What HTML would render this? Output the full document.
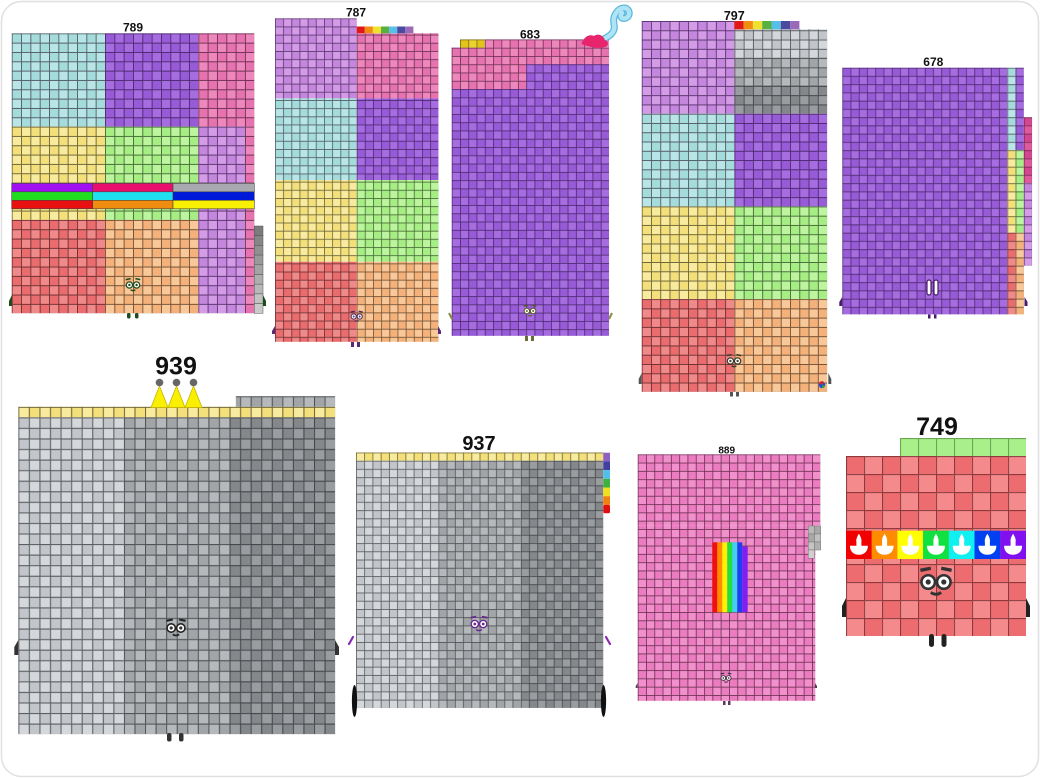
<!DOCTYPE html>
<html><head><meta charset="utf-8"><style>
html,body{margin:0;padding:0;background:#fff;}
svg{display:block;}
text{font-family:"Liberation Sans",sans-serif;font-weight:bold;fill:#111;text-anchor:middle;}
</style></head><body>
<svg width="1040" height="778" viewBox="0 0 1040 778" xmlns="http://www.w3.org/2000/svg">
<defs>
<pattern id="cy" width="20" height="20" patternUnits="userSpaceOnUse"><rect width="20" height="20" fill="#a4dcdc"/><path d="M10 0h10v10H10zM0 10h10v10H0z" fill="#b8e6e6"/><path d="M0 .5H20M0 10.5H20M.5 0V20M10.5 0V20" stroke="#2a2030" stroke-opacity=".68"/></pattern>
<pattern id="pu" width="20" height="20" patternUnits="userSpaceOnUse"><rect width="20" height="20" fill="#985bd8"/><path d="M10 0h10v10H10zM0 10h10v10H0z" fill="#a66de0"/><path d="M0 .5H20M0 10.5H20M.5 0V20M10.5 0V20" stroke="#2a1040" stroke-opacity=".68"/></pattern>
<pattern id="pk" width="20" height="20" patternUnits="userSpaceOnUse"><rect width="20" height="20" fill="#e672b0"/><path d="M10 0h10v10H10zM0 10h10v10H0z" fill="#ee88bc"/><path d="M0 .5H20M0 10.5H20M.5 0V20M10.5 0V20" stroke="#3a1028" stroke-opacity=".68"/></pattern>
<pattern id="mg" width="20" height="20" patternUnits="userSpaceOnUse"><rect width="20" height="20" fill="#d44690"/><path d="M10 0h10v10H10zM0 10h10v10H0z" fill="#de5a9c"/><path d="M0 .5H20M0 10.5H20M.5 0V20M10.5 0V20" stroke="#3a1028" stroke-opacity=".6"/></pattern>
<pattern id="ye" width="20" height="20" patternUnits="userSpaceOnUse"><rect width="20" height="20" fill="#f4e07a"/><path d="M10 0h10v10H10zM0 10h10v10H0z" fill="#f8eb9e"/><path d="M0 .5H20M0 10.5H20M.5 0V20M10.5 0V20" stroke="#302a10" stroke-opacity=".68"/></pattern>
<pattern id="gold" width="20" height="20" patternUnits="userSpaceOnUse"><rect width="20" height="20" fill="#e4c418"/><path d="M10 0h10v10H10zM0 10h10v10H0z" fill="#ecd230"/><path d="M0 .5H20M0 10.5H20M.5 0V20M10.5 0V20" stroke="#302a10" stroke-opacity=".6"/></pattern>
<pattern id="gn" width="20" height="20" patternUnits="userSpaceOnUse"><rect width="20" height="20" fill="#a6ee84"/><path d="M10 0h10v10H10zM0 10h10v10H0z" fill="#bcf59e"/><path d="M0 .5H20M0 10.5H20M.5 0V20M10.5 0V20" stroke="#183010" stroke-opacity=".68"/></pattern>
<pattern id="li" width="20" height="20" patternUnits="userSpaceOnUse"><rect width="20" height="20" fill="#c487dd"/><path d="M10 0h10v10H10zM0 10h10v10H0z" fill="#d49be6"/><path d="M0 .5H20M0 10.5H20M.5 0V20M10.5 0V20" stroke="#2a1040" stroke-opacity=".68"/></pattern>
<pattern id="rd" width="20" height="20" patternUnits="userSpaceOnUse"><rect width="20" height="20" fill="#ea6c6e"/><path d="M10 0h10v10H10zM0 10h10v10H0z" fill="#f08a8a"/><path d="M0 .5H20M0 10.5H20M.5 0V20M10.5 0V20" stroke="#3a1010" stroke-opacity=".68"/></pattern>
<pattern id="or" width="20" height="20" patternUnits="userSpaceOnUse"><rect width="20" height="20" fill="#f4b27a"/><path d="M10 0h10v10H10zM0 10h10v10H0z" fill="#f8c898"/><path d="M0 .5H20M0 10.5H20M.5 0V20M10.5 0V20" stroke="#3a2010" stroke-opacity=".68"/></pattern>
<pattern id="gl" width="20" height="20" patternUnits="userSpaceOnUse"><rect width="20" height="20" fill="#c2c6ca"/><path d="M10 0h10v10H10zM0 10h10v10H0z" fill="#d4d8db"/><path d="M0 .5H20M0 10.5H20M.5 0V20M10.5 0V20" stroke="#202428" stroke-opacity=".65"/></pattern>
<pattern id="gm" width="20" height="20" patternUnits="userSpaceOnUse"><rect width="20" height="20" fill="#a2a5a8"/><path d="M10 0h10v10H10zM0 10h10v10H0z" fill="#b6b9bc"/><path d="M0 .5H20M0 10.5H20M.5 0V20M10.5 0V20" stroke="#202428" stroke-opacity=".65"/></pattern>
<pattern id="gd" width="20" height="20" patternUnits="userSpaceOnUse"><rect width="20" height="20" fill="#85888b"/><path d="M10 0h10v10H10zM0 10h10v10H0z" fill="#9a9da0"/><path d="M0 .5H20M0 10.5H20M.5 0V20M10.5 0V20" stroke="#202428" stroke-opacity=".65"/></pattern>
<pattern id="p2" width="20" height="20" patternUnits="userSpaceOnUse"><rect width="20" height="20" fill="#ec7cc0"/><path d="M10 0h10v10H10zM0 10h10v10H0z" fill="#f290cc"/><path d="M0 .5H20M0 10.5H20M.5 0V20M10.5 0V20" stroke="#3a1028" stroke-opacity=".7"/></pattern>
<pattern id="r2" width="20" height="20" patternUnits="userSpaceOnUse"><rect width="20" height="20" fill="#ec6c70"/><path d="M10 0h10v10H10zM0 10h10v10H0z" fill="#f48a8c"/><path d="M0 .3H20M0 10.3H20M.3 0V20M10.3 0V20" stroke="#501818" stroke-opacity=".6" stroke-width=".6"/></pattern>
<pattern id="g2" width="20" height="20" patternUnits="userSpaceOnUse"><rect width="20" height="20" fill="#aaf08a"/><path d="M0 .3H20M0 10.3H20M.3 0V20M10.3 0V20" stroke="#3a7a2a" stroke-opacity=".6" stroke-width=".6"/></pattern>
<g id="cd"><path d="M0 3C2 6 3 9 2.5 11H-2.5C-3 9-2 6 0 3Z M-2.5 11h5v4h-5z M-9 15H9C9 21 5 24 0 24C-5 24-9 21-9 15Z" fill="#fff"/></g>
<g id="face"><path d="M-6-4.5l4-.8M2-5.3l4 .8" stroke-width="1.3" fill="none"/><circle cx="-3" r="2.6" fill="#fff" stroke-width="1"/><circle cx="3" r="2.6" fill="#fff" stroke-width="1"/><circle cx="-3" r="1" stroke="none"/><circle cx="3" r="1" stroke="none"/><path d="M-2 4q2 1.4 4 0" fill="none" stroke-width="1.1"/></g>
</defs>

<rect x="1.5" y="1.5" width="1037" height="775" rx="20" fill="#fff" stroke="#e0e0e0" stroke-width="1.5"/>

<!-- 789 -->
<g transform="translate(11.7 33.3) scale(.933)">
<rect width="100" height="100" fill="url(#cy)"/>
<rect x="100" width="100" height="100" fill="url(#pu)"/>
<rect x="200" width="60" height="100" fill="url(#pk)"/>
<rect y="100" width="100" height="100" fill="url(#ye)"/>
<rect x="100" y="100" width="100" height="100" fill="url(#gn)"/>
<rect x="200" y="100" width="50" height="200" fill="url(#li)"/>
<rect x="250" y="100" width="10" height="200" fill="url(#pk)"/>
<rect y="200" width="100" height="100" fill="url(#rd)"/>
<rect x="100" y="200" width="100" height="100" fill="url(#or)"/>
</g>
<g stroke="#444" stroke-width=".6">
<rect x="11.7" y="183.3" width="81" height="8.5" fill="#a010f0"/>
<rect x="92.7" y="183.3" width="80.3" height="8.5" fill="#e8106c"/>
<rect x="173" y="183.3" width="81.3" height="8.5" fill="#a8a8b0"/>
<rect x="11.7" y="191.8" width="81" height="8.5" fill="#20dd20"/>
<rect x="92.7" y="191.8" width="80.3" height="8.5" fill="#20e0f0"/>
<rect x="173" y="191.8" width="81.3" height="8.5" fill="#0018d8"/>
<rect x="11.7" y="200.3" width="81" height="8.5" fill="#e81010"/>
<rect x="92.7" y="200.3" width="80.3" height="8.5" fill="#f08c10"/>
<rect x="173" y="200.3" width="81.3" height="8.5" fill="#f8f000"/>
</g>
<g stroke="#555" stroke-width=".5">
<rect x="254.3" y="226" width="8.7" height="9.7" fill="#7c7c7c"/>
<rect x="254.3" y="235.7" width="8.7" height="9.7" fill="#868686"/>
<rect x="254.3" y="245.4" width="8.7" height="9.7" fill="#909090"/>
<rect x="254.3" y="255.1" width="8.7" height="9.7" fill="#9a9a9a"/>
<rect x="254.3" y="264.8" width="8.7" height="9.7" fill="#a4a4a4"/>
<rect x="254.3" y="274.5" width="8.7" height="9.7" fill="#aeaeae"/>
<rect x="254.3" y="284.2" width="8.7" height="9.7" fill="#b8b8b8"/>
<rect x="254.3" y="293.9" width="8.7" height="9.7" fill="#c2c2c2"/>
<rect x="254.3" y="303.6" width="8.7" height="9.7" fill="#cacaca"/>
</g>
<text x="133" y="31.7" font-size="12">789</text>
<use href="#face" transform="translate(133 285) scale(1.2)" fill="#1d4d1d" stroke="#1d4d1d"/>
<g fill="#1d4d1d"><rect x="127" y="313" width="3.5" height="5.5" rx="1.5"/><rect x="135" y="313" width="3.5" height="5.5" rx="1.5"/><path d="M12 295l-3 6v5h3z"/><path d="M263 295l3 6v5h-3z"/></g>

<!-- 787 -->
<g transform="translate(275 18.3) scale(.817)">
<rect width="100" height="98" fill="url(#li)"/>
<rect x="100" y="18.4" width="100" height="79.6" fill="url(#pk)"/>
<rect y="98" width="100" height="100" fill="url(#cy)"/>
<rect x="100" y="98" width="100" height="100" fill="url(#pu)"/>
<rect y="198" width="100" height="100" fill="url(#ye)"/>
<rect x="100" y="198" width="100" height="100" fill="url(#gn)"/>
<rect y="298" width="100" height="98" fill="url(#rd)"/>
<rect x="100" y="298" width="100" height="98" fill="url(#or)"/>
</g>
<g>
<rect x="356.7" y="26.5" width="8.1" height="6.8" fill="#e01818"/>
<rect x="364.8" y="26.5" width="8.1" height="6.8" fill="#f08c10"/>
<rect x="372.9" y="26.5" width="8.1" height="6.8" fill="#f0e030"/>
<rect x="381" y="26.5" width="8.1" height="6.8" fill="#58b040"/>
<rect x="389.1" y="26.5" width="8.1" height="6.8" fill="#58c0e8"/>
<rect x="397.2" y="26.5" width="8.1" height="6.8" fill="#4a4aa0"/>
<rect x="405.3" y="26.5" width="8.1" height="6.8" fill="#9a6ab8"/>
</g>
<text x="356" y="16.7" font-size="12">787</text>
<use href="#face" transform="translate(356.7 316.5) scale(1)" fill="#5a3a6a" stroke="#4a2a5a"/>
<g fill="#5a2a7a"><rect x="351" y="342" width="3" height="5"/><rect x="357" y="342" width="3" height="5"/><path d="M275 326l-3 5v3h3z"/><path d="M438 326l3 5v3h-3z"/></g>

<!-- 683 -->
<g transform="translate(451.7 47.7) scale(.828)">
<rect width="190" height="348" fill="url(#pu)"/>
<rect width="90" height="50" fill="url(#pk)"/>
<rect x="90" width="100" height="20" fill="url(#pk)"/>
<rect x="10" y="-10" width="30" height="10" fill="url(#gold)"/>
<rect x="40" y="-10" width="150" height="10" fill="url(#pk)"/>
</g>
<text x="530" y="38.3" font-size="12">683</text>
<path d="M602 40C610 36 616 32 614 24C612 16 618 8 624 8C630 8 631 16 626 18C622 20 619 16 622 13" stroke="#5ab8e0" stroke-width="7" fill="none" stroke-linecap="round"/>
<path d="M602 40C610 36 616 32 614 24C612 16 618 8 624 8C630 8 631 16 626 18C622 20 619 16 622 13" stroke="#aee4f4" stroke-width="4.5" fill="none" stroke-linecap="round"/>
<path d="M583 41C585 36 590 34 594 36C598 33 603 35 605 40C609 41 609 46 605 47C598 49 590 47 584 45C581 44 581 42 583 41Z" fill="#e8246c"/>
<use href="#face" transform="translate(530 311) scale(1.05)" fill="#6a6a30" stroke="#5a5a28"/>
<g stroke="#8a8a40" stroke-width="2" fill="none"><path d="M449 313l3 6"/><path d="M612 313l-3 6"/></g>
<g fill="#6a6a3a"><rect x="525" y="336" width="3" height="5"/><rect x="531" y="336" width="3" height="5"/></g>

<!-- 797 -->
<g transform="translate(641.7 21) scale(.927)">
<rect width="100" height="100" fill="url(#li)"/>
<rect x="100" y="9" width="100" height="30" fill="url(#gl)"/>
<rect x="100" y="39" width="100" height="30" fill="url(#gm)"/>
<rect x="100" y="69" width="100" height="31" fill="url(#gd)"/>
<rect y="100" width="100" height="100" fill="url(#cy)"/>
<rect x="100" y="100" width="100" height="100" fill="url(#pu)"/>
<rect y="200" width="100" height="100" fill="url(#ye)"/>
<rect x="100" y="200" width="100" height="100" fill="url(#gn)"/>
<rect y="300" width="100" height="100" fill="url(#rd)"/>
<rect x="100" y="300" width="100" height="100" fill="url(#or)"/>
</g>
<g>
<rect x="734.3" y="21" width="9.3" height="8.3" fill="#e01818"/>
<rect x="743.6" y="21" width="9.3" height="8.3" fill="#f08c10"/>
<rect x="752.9" y="21" width="9.3" height="8.3" fill="#f0e030"/>
<rect x="762.2" y="21" width="9.3" height="8.3" fill="#58b040"/>
<rect x="771.5" y="21" width="9.3" height="8.3" fill="#58c0e8"/>
<rect x="780.8" y="21" width="9.3" height="8.3" fill="#4a4aa0"/>
<rect x="790.1" y="21" width="9.3" height="8.3" fill="#9a6ab8"/>
</g>
<text x="734.3" y="20" font-size="12.5">797</text>
<use href="#face" transform="translate(734 361) scale(1.2)" fill="#4a4a3a" stroke="#3a3a2a"/>
<circle cx="822" cy="385" r="3.2" fill="#2050e0"/><path d="M822 385l-3-2a3.2 3.2 0 0 1 5-1z" fill="#e02020"/><path d="M822 385l3 1a3.2 3.2 0 0 1-3 2z" fill="#20b020"/>
<g fill="#555"><rect x="730" y="392" width="3" height="4.5"/><rect x="736" y="392" width="3" height="4.5"/><path d="M641.7 373l-3 6v5h3z"/><path d="M828.3 373l3 6v5h-3z"/></g>

<!-- 678 -->
<g transform="translate(842.3 67.7) scale(.825)">
<rect width="200" height="299" fill="url(#pu)"/>
<rect x="200" width="10" height="100" fill="url(#cy)"/>
<rect x="200" y="100" width="10" height="100" fill="url(#ye)"/>
<rect x="200" y="200" width="10" height="99" fill="url(#rd)"/>
<rect x="210" width="10" height="100" fill="url(#pu)"/>
<rect x="210" y="100" width="10" height="100" fill="url(#gn)"/>
<rect x="210" y="200" width="10" height="99" fill="url(#or)"/>
<rect x="220" y="60" width="10" height="80" fill="url(#mg)"/>
<rect x="220" y="140" width="10" height="100" fill="url(#li)"/>
</g>
<text x="933.3" y="66" font-size="12">678</text>
<g fill="#fff" stroke="#4a1a6a" stroke-width="1.2"><rect x="927" y="280" width="4" height="15" rx="2"/><rect x="934" y="280" width="4" height="15" rx="2"/></g>
<g fill="#4a1a6a"><rect x="928" y="314.5" width="2.5" height="4"/><rect x="934" y="314.5" width="2.5" height="4"/><path d="M842.3 297l-3 5v4h3z"/><path d="M1024.5 297l3 5v4h-3z"/></g>

<!-- 939 -->
<g transform="translate(18.3 417.3) scale(1.056)">
<rect width="100" height="300" fill="url(#gl)"/>
<rect x="100" width="100" height="300" fill="url(#gm)"/>
<rect x="200" width="100" height="300" fill="url(#gd)"/>
<rect y="-10" width="300" height="10" fill="url(#ye)"/>
<rect x="206" y="-20" width="94" height="10" fill="url(#gm)"/>
</g>
<g fill="#f8f000" stroke="#c8b400" stroke-width=".8">
<path d="M151 407.5L159.5 386L168 407.5Z"/><path d="M168 407.5L176.5 386L185 407.5Z"/><path d="M185 407.5L193.5 386L202 407.5Z"/>
</g>
<g fill="#666"><circle cx="159.5" cy="382.5" r="3.8"/><circle cx="176.5" cy="382.5" r="3.8"/><circle cx="193.5" cy="382.5" r="3.8"/></g>
<text x="176" y="374.5" font-size="25" style="font-weight:600">939</text>
<use href="#face" transform="translate(176 628) scale(1.6)" fill="#333" stroke="#222"/>
<g fill="#333"><rect x="167" y="733" width="4.5" height="8.5" rx="2"/><rect x="179" y="733" width="4.5" height="8.5" rx="2"/><path d="M18.3 640l-4 7v8h4z"/><path d="M335 640l4 7v8h-4z"/></g>

<!-- 937 -->
<g transform="translate(356 460.7) scale(.824)">
<rect width="100" height="300" fill="url(#gl)"/>
<rect x="100" width="100" height="300" fill="url(#gm)"/>
<rect x="200" width="100" height="300" fill="url(#gd)"/>
<rect y="-10" width="300" height="10" fill="url(#ye)"/>
</g>
<g>
<rect x="603.3" y="452.7" width="6.7" height="8.7" fill="#9060c0"/>
<rect x="603.3" y="461.4" width="6.7" height="8.7" fill="#4040a0"/>
<rect x="603.3" y="470.1" width="6.7" height="8.7" fill="#50c0e8"/>
<rect x="603.3" y="478.8" width="6.7" height="8.7" fill="#40b040"/>
<rect x="603.3" y="487.5" width="6.7" height="8.7" fill="#f0e020"/>
<rect x="603.3" y="496.2" width="6.7" height="8.7" fill="#f08010"/>
<rect x="603.3" y="504.9" width="6.7" height="8.4" rx="1.5" fill="#e01010"/>
</g>
<text x="479" y="450" font-size="20" style="font-weight:600">937</text>
<use href="#face" transform="translate(479 624) scale(1.4)" fill="#6a2a90" stroke="#6a2a90"/>
<g stroke="#8a2ab0" stroke-width="2.2" stroke-linecap="round"><path d="M349 644l4-7"/><path d="M610 644l-4-7"/></g>
<g fill="#111"><ellipse cx="354.5" cy="701" rx="2.6" ry="16"/><ellipse cx="603.5" cy="701" rx="2.6" ry="16"/></g>

<!-- 889 -->
<g transform="translate(637.7 454.3) scale(.83)">
<rect width="220" height="86" fill="url(#p2)"/>
<rect y="86" width="214" height="211" fill="url(#p2)"/>
</g>
<g stroke="#777" stroke-width=".5"><rect x="808.3" y="526" width="6.2" height="8" fill="#b8b8b8"/><rect x="814.5" y="526" width="6.2" height="8" fill="#a8a8a8"/><rect x="808.3" y="534" width="6.2" height="8" fill="#a8a8a8"/><rect x="814.5" y="534" width="6.2" height="8" fill="#c0c0c0"/><rect x="808.3" y="542" width="6.2" height="8" fill="#c4c4c4"/><rect x="814.5" y="542" width="6.2" height="8" fill="#b0b0b0"/><rect x="808.3" y="550" width="6.2" height="8.3" fill="#d0d0d0"/></g>
<g>
<rect x="712.3" y="542.3" width="5" height="70" fill="#f01010"/>
<rect x="717.3" y="542.3" width="5" height="70" fill="#ff8c00"/>
<rect x="722.3" y="542.3" width="5" height="70" fill="#fff000"/>
<rect x="727.3" y="542.3" width="5" height="70" fill="#20e040"/>
<rect x="732.3" y="542.3" width="5" height="70" fill="#40d0f0"/>
<rect x="737.3" y="542.3" width="5" height="70" fill="#2040f0"/>
<rect x="742.3" y="546.5" width="5.4" height="65.8" fill="#8020f0"/>
</g>
<text x="726.7" y="453.5" font-size="10">889</text>
<use href="#face" transform="translate(726 678) scale(.9)" fill="#4a3a4a" stroke="#3a2a3a"/>
<g fill="#5a3a5a"><rect x="723" y="701" width="2.5" height="4"/><rect x="728" y="701" width="2.5" height="4"/><path d="M637.7 683l-2 3v2h2z"/><path d="M815 683l2 3v2h-2z"/></g>

<!-- 749 -->
<g transform="translate(846 456) scale(1.8)">
<rect width="100" height="100" fill="url(#r2)"/>
<rect x="30" y="-10" width="70" height="10" fill="url(#g2)"/>
</g>
<g>
<rect x="846" y="530.7" width="25.8" height="28.3" fill="#f00000"/>
<rect x="871.7" y="530.7" width="25.8" height="28.3" fill="#ff8c00"/>
<rect x="897.4" y="530.7" width="25.8" height="28.3" fill="#ffff00"/>
<rect x="923.1" y="530.7" width="25.8" height="28.3" fill="#10e040"/>
<rect x="948.8" y="530.7" width="25.8" height="28.3" fill="#10f0f0"/>
<rect x="974.5" y="530.7" width="25.8" height="28.3" fill="#0040f0"/>
<rect x="1000.2" y="530.7" width="25.8" height="28.3" fill="#8010f0"/>
</g>
<use href="#cd" transform="translate(858.9 530.7)"/>
<use href="#cd" transform="translate(884.6 530.7)"/>
<use href="#cd" transform="translate(910.3 530.7)"/>
<use href="#cd" transform="translate(936 530.7)"/>
<use href="#cd" transform="translate(961.7 530.7)"/>
<use href="#cd" transform="translate(987.4 530.7)"/>
<use href="#cd" transform="translate(1013.1 530.7)"/>
<text x="937" y="435" font-size="25" style="font-weight:600">749</text>
<use href="#face" transform="translate(936 582) scale(2.6)" fill="#333" stroke="#333"/>
<g fill="#222"><rect x="929" y="634" width="5" height="13" rx="2.5"/><rect x="941.5" y="634" width="5" height="13" rx="2.5"/><path d="M846 598l-4 8v11h4z"/><path d="M1026 598l4 8v11h-4z"/></g>
</svg>
</body></html>
